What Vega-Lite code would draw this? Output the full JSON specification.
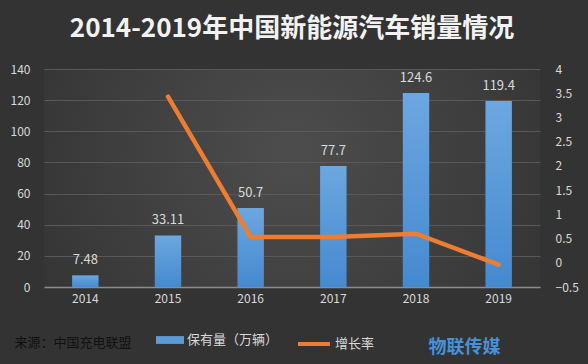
{
  "$schema": "https://vega.github.io/schema/vega-lite/v6.json",
  "autosize": {"type": "none"},
  "width": 496,
  "height": 218,
  "padding": {"left": 44, "top": 69, "right": 48, "bottom": 77},
  "background": "#333333",
  "config": {
    "view": {"stroke": null, "fill": {"gradient": "radial", "x1": 0.5, "y1": 0.45, "r1": 0, "x2": 0.5, "y2": 0.45, "r2": 0.62, "stops": [{"offset": 0, "color": "#4d4d4d"}, {"offset": 1, "color": "#333333"}]}},
    "font": "Noto Sans CJK SC",
    "axis": {"labelFont": "Noto Sans CJK SC", "labelColor": "#d9d9d9", "labelFontSize": 12}
  },
  "title": {
    "text": "2014-2019年中国新能源汽车销量情况",
    "font": "Noto Sans CJK SC",
    "fontSize": 26,
    "fontWeight": "bold",
    "color": "#f2f2f2",
    "anchor": "middle",
    "offset": 21,
    "frame": "group"
  },
  "data": {
    "values": [
      {"year": "2014", "stock": 7.48, "growth": null},
      {"year": "2015", "stock": 33.11, "growth": 3.43},
      {"year": "2016", "stock": 50.7, "growth": 0.53},
      {"year": "2017", "stock": 77.7, "growth": 0.53},
      {"year": "2018", "stock": 124.6, "growth": 0.6},
      {"year": "2019", "stock": 119.4, "growth": -0.04}
    ]
  },
  "encoding": {
    "x": {
      "field": "year",
      "type": "nominal",
      "scale": {"paddingInner": 0.68, "paddingOuter": 0.34},
      "axis": {
        "labelAngle": 0,
        "labelPadding": 6,
        "ticks": false,
        "domainColor": "#8c8c8c",
        "domainWidth": 1.5,
        "grid": false,
        "title": "来源：中国充电联盟",
        "titleColor": "#111111",
        "titleFontSize": 13,
        "titleFontWeight": "normal",
        "titleAnchor": "start",
        "titleAlign": "left",
        "titleX": -30,
        "titleY": 49
      }
    }
  },
  "layer": [
    {
      "encoding": {
        "y": {
          "field": "stock",
          "type": "quantitative",
          "scale": {"domain": [0, 140]},
          "axis": {
            "values": [0, 20, 40, 60, 80, 100, 120, 140],
            "domain": false,
            "ticks": false,
            "labelPadding": 14,
            "gridColor": "#595959",
            "gridWidth": 1,
            "title": null
          }
        }
      },
      "layer": [
        {
          "mark": {"type": "bar", "color": {"gradient": "linear", "x1": 0, "y1": 0, "x2": 0, "y2": 1, "stops": [{"offset": 0, "color": "#6ca7e0"}, {"offset": 1, "color": "#4589cf"}]}}
        },
        {
          "mark": {"type": "bar", "opacity": 0},
          "encoding": {
            "fill": {
              "datum": "保有量（万辆）",
              "scale": {"domain": ["保有量（万辆）"], "range": ["#5b9bd5"]},
              "legend": {
                "orient": "none",
                "legendX": 112,
                "legendY": 257,
                "title": null,
                "padding": 0,
                "symbolType": "M-1,-0.28H1V0.28H-1Z",
                "symbolSize": 784,
                "symbolOpacity": 1,
                "symbolStrokeWidth": 0,
                "labelColor": "#d9d9d9",
                "labelFontSize": 13,
                "labelOffset": 3
              }
            }
          }
        },
        {
          "mark": {"type": "text", "baseline": "bottom", "dy": -8, "fontSize": 13, "color": "#d9d9d9"},
          "encoding": {
            "text": {"field": "stock", "type": "quantitative"}
          }
        }
      ]
    },
    {
      "mark": {"type": "line", "strokeWidth": 4.5, "strokeCap": "round", "strokeJoin": "miter"},
      "encoding": {
        "y": {
          "field": "growth",
          "type": "quantitative",
          "scale": {"domain": [-0.5, 4]},
          "axis": {
            "orient": "right",
            "values": [-0.5, 0, 0.5, 1, 1.5, 2, 2.5, 3, 3.5, 4],
            "format": "~g",
            "domain": false,
            "ticks": false,
            "grid": false,
            "labelPadding": 15,
            "title": "物联传媒",
            "titleColor": "#4a90d9",
            "titleFontSize": 18,
            "titleFontWeight": "bold",
            "titleAngle": 0,
            "titleAlign": "right",
            "titleBaseline": "middle",
            "titleX": -40,
            "titleY": 278
          }
        },
        "stroke": {
          "datum": "增长率",
          "scale": {"domain": ["增长率"], "range": ["#ed7d31"]},
          "legend": {
            "orient": "none",
            "legendX": 252,
            "legendY": 257,
            "title": null,
            "padding": 0,
            "symbolType": "stroke",
            "symbolSize": 1024,
            "symbolStrokeWidth": 4,
            "labelColor": "#d9d9d9",
            "labelFontSize": 13,
            "labelOffset": 3
          }
        }
      }
    }
  ],
  "resolve": {"scale": {"y": "independent"}}
}
